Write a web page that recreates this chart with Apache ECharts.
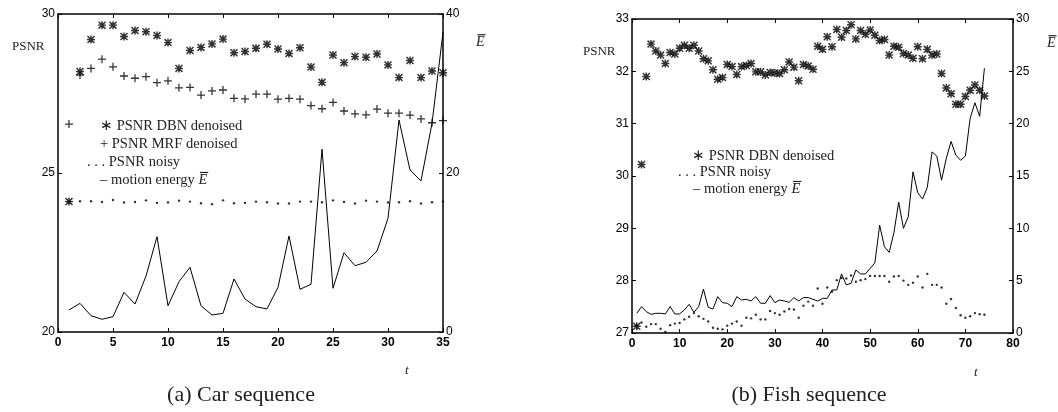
<!DOCTYPE html>
<html>
<head>
<meta charset="utf-8">
<script src="https://cdn.jsdelivr.net/npm/echarts@6/dist/echarts.min.js"></script>
<style>
html,body{margin:0;padding:0;background:#fff;}
#chart{width:1058px;height:412px;}
</style>
</head>
<body>
<div id="chart"></div>
<script>
// (a) Car sequence, t = 1..35
var dbnCar = [24.1, 28.19, 29.2, 29.65, 29.65, 29.29, 29.48, 29.44, 29.32, 29.1, 28.29, 28.85, 28.95, 29.06, 29.21, 28.78, 28.82, 28.92, 29.05, 28.9,
              28.76, 28.94, 28.33, 27.85, 28.71, 28.47, 28.66, 28.64, 28.74, 28.4, 28.0, 28.54, 28.0, 28.21, 28.15];
var mrfCar = [26.54, 28.08, 28.29, 28.58, 28.34, 28.05, 27.98, 28.03, 27.84, 27.9, 27.68, 27.69, 27.45, 27.58, 27.61, 27.35, 27.33, 27.48, 27.48, 27.32,
              27.35, 27.32, 27.12, 27.02, 27.22, 26.95, 26.86, 26.83, 27.01, 26.88, 26.88, 26.82, 26.7, 26.58, 26.65];
var noisyCar = [24.1, 24.11, 24.11, 24.09, 24.15, 24.07, 24.09, 24.14, 24.06, 24.07, 24.13, 24.10, 24.05, 24.02, 24.14, 24.05, 24.06, 24.10, 24.08, 24.04,
                24.04, 24.10, 24.10, 24.08, 24.14, 24.09, 24.04, 24.13, 24.10, 24.07, 24.08, 24.11, 24.04, 24.08, 24.1];
var energyCar = [2.77, 3.6, 2.05, 1.6, 1.93, 4.99, 3.52, 7.04, 11.99, 3.3, 6.33, 8.14, 3.3, 2.14, 2.35, 6.67, 4.15, 3.18, 2.9, 5.62,
                 12.08, 5.37, 6.0, 23.0, 5.5, 9.97, 8.34, 8.77, 10.19, 14.3, 26.67, 20.38, 19.0, 26.25, 37.7];

// (b) Fish sequence, t = 1..74
var dbnFish = [27.13, 30.22, 31.9, 32.52, 32.39, 32.31, 32.15, 32.36, 32.33, 32.44, 32.50, 32.44, 32.50, 32.39, 32.24, 32.20, 32.03, 31.85, 31.88, 32.13,
               32.09, 31.94, 32.09, 32.11, 32.15, 31.99, 31.99, 31.93, 31.98, 31.97, 31.96, 32.03, 32.18, 32.08, 31.82, 32.13, 32.10, 32.04, 32.48, 32.42,
               32.66, 32.47, 32.80, 32.65, 32.78, 32.89, 32.62, 32.78, 32.71, 32.79, 32.69, 32.59, 32.61, 32.31, 32.48, 32.46, 32.34, 32.31, 32.25, 32.47,
               32.24, 32.42, 32.31, 32.33, 31.96, 31.68, 31.57, 31.37, 31.37, 31.52, 31.64, 31.74, 31.64, 31.53];
var noisyFish = [27.14, 27.20, 27.12, 27.17, 27.17, 27.08, 27.02, 27.15, 27.18, 27.19, 27.26, 27.31, 27.38, 27.32, 27.27, 27.22, 27.10, 27.08, 27.07, 27.14,
                 27.18, 27.22, 27.14, 27.29, 27.28, 27.35, 27.26, 27.26, 27.42, 27.38, 27.35, 27.41, 27.46, 27.45, 27.29, 27.52, 27.60, 27.52, 27.85, 27.56,
                 27.87, 27.79, 28.01, 28.05, 28.04, 28.10, 27.98, 28.01, 28.03, 28.09, 28.09, 28.09, 28.09, 27.98, 28.08, 28.09, 28.0, 27.92, 27.96, 28.08,
                 27.87, 28.13, 27.92, 27.92, 27.87, 27.56, 27.65, 27.48, 27.34, 27.29, 27.32, 27.38, 27.36, 27.35];
var energyFish = [1.88, 2.52, 2.04, 1.78, 1.88, 1.88, 1.82, 2.52, 1.82, 1.82, 2.2, 2.74, 1.97, 2.52, 4.2, 2.45, 2.29, 3.47, 2.9, 2.84,
                  2.52, 3.47, 3.15, 3.22, 3.06, 3.47, 2.84, 2.84, 3.57, 2.9, 3.15, 3.06, 2.93, 3.38, 3.06, 3.38, 3.38, 3.22, 3.06, 3.31,
                  3.31, 4.11, 4.11, 5.64, 4.59, 4.75, 6.02, 5.64, 5.64, 6.18, 6.7, 10.3, 8.25, 7.7, 9.6, 12.5, 10.0, 11.1, 15.4, 13.4,
                  12.8, 13.9, 17.3, 16.9, 14.6, 16.7, 18.3, 17.0, 16.5, 16.9, 20.5, 22.0, 20.7, 25.3];

var legendCar = ['\u2217 PSNR DBN denoised', '+ PSNR MRF denoised', '. . . PSNR noisy', '\u2013 motion energy '];
var legendFish = ['\u2217 PSNR DBN denoised', '. . . PSNR noisy', '\u2013 motion energy '];
var captions = ['(a) Car sequence', '(b) Fish sequence'];

function pairs(vals) {
    return vals.map(function (v, i) { return [i + 1, v]; });
}

// asterisk = plus + cross, all subpaths same winding
var STAR = 'path://M4.1,0L5.9,0L5.9,4.1L10,4.1L10,5.9L5.9,5.9L5.9,10L4.1,10L4.1,5.9L0,5.9L0,4.1L4.1,4.1Z' +
           'M1.3,0L10,8.7L8.7,10L0,1.3ZM8.7,0L10,1.3L1.3,10L0,8.7Z';
var PLUS = 'path://M4.2,0L5.8,0L5.8,4.2L10,4.2L10,5.8L5.8,5.8L5.8,10L4.2,10L4.2,5.8L0,5.8L0,4.2L4.2,4.2Z';

var SANS = 'Liberation Sans, Arial, sans-serif';
var SERIF = 'Liberation Serif, Times New Roman, serif';

function xAx(gi, max, step, top) {
    return {
        type: 'value', gridIndex: gi, position: top ? 'top' : 'bottom',
        min: 0, max: max, interval: step,
        axisLine: { show: true, onZero: false, lineStyle: { color: '#000', width: 1.5 } },
        axisTick: { show: true, inside: true, length: 4, lineStyle: { color: '#000', width: 1 } },
        axisLabel: { show: !top, color: '#000', fontFamily: SANS, fontSize: 12, fontWeight: 'bold', margin: 5 },
        splitLine: { show: false }
    };
}
function yAx(gi, min, max, step, right) {
    return {
        type: 'value', gridIndex: gi, position: right ? 'right' : 'left',
        min: min, max: max, interval: step,
        axisLine: { show: true, onZero: false, lineStyle: { color: '#000', width: 1.5 } },
        axisTick: { show: true, inside: true, length: 4, lineStyle: { color: '#000', width: 1 } },
        axisLabel: { color: '#000', fontFamily: SANS, fontSize: 12, margin: 3 },
        splitLine: { show: false }
    };
}

var measure = document.createElement('canvas').getContext('2d');
function textW(str, font) {
    measure.font = font;
    return measure.measureText(str).width;
}
// italic E with a bar over it
function eBar(x, y, size) {
    var w = textW('E', 'italic ' + size + 'px ' + SERIF);
    return [
        { type: 'text', silent: true, style: { text: 'E', x: x, y: y, fontFamily: SERIF, fontSize: size, fontStyle: 'italic', fill: '#222', align: 'left', verticalAlign: 'middle' } },
        { type: 'line', silent: true, shape: { x1: x + 1.5, y1: y - size * 0.52, x2: x + w + 1, y2: y - size * 0.52 }, style: { stroke: '#222', lineWidth: 1.2 } }
    ];
}
function legendBlock(lines, xs, ys, size) {
    var out = [];
    lines.forEach(function (s, i) {
        out.push({ type: 'text', silent: true, style: { text: s, x: xs[i], y: ys[i], fontFamily: SERIF, fontSize: size, fill: '#222', align: 'left', verticalAlign: 'middle' } });
    });
    var last = lines.length - 1;
    var w = textW(lines[last], size + 'px ' + SERIF);
    return out.concat(eBar(xs[last] + w, ys[last], size));
}

var graphics = []
    .concat(legendBlock(legendCar, [100, 100, 87, 100], [126, 144, 162, 180], 14.5))
    .concat(legendBlock(legendFish, [692, 678, 693], [156, 172, 189], 14.5))
    .concat([
        { type: 'text', silent: true, style: { text: 'PSNR', x: 12, y: 47, fontFamily: SERIF, fontSize: 13, fill: '#222', verticalAlign: 'middle' } },
        { type: 'text', silent: true, style: { text: 'PSNR', x: 583, y: 52, fontFamily: SERIF, fontSize: 13, fill: '#222', verticalAlign: 'middle' } },
        { type: 'text', silent: true, style: { text: 't', x: 405, y: 371, fontFamily: SERIF, fontSize: 13, fontStyle: 'italic', fill: '#222', verticalAlign: 'middle' } },
        { type: 'text', silent: true, style: { text: 't', x: 974, y: 373, fontFamily: SERIF, fontSize: 13, fontStyle: 'italic', fill: '#222', verticalAlign: 'middle' } },
        { type: 'text', silent: true, style: { text: captions[0], x: 241, y: 395, fontFamily: SERIF, fontSize: 22, fill: '#222', align: 'center', verticalAlign: 'middle' } },
        { type: 'text', silent: true, style: { text: captions[1], x: 809, y: 395, fontFamily: SERIF, fontSize: 22, fill: '#222', align: 'center', verticalAlign: 'middle' } }
    ])
    .concat(eBar(476, 42, 14))
    .concat(eBar(1047, 43, 14));

var myChart = echarts.init(document.getElementById('chart'), null, { renderer: 'canvas' });
myChart.setOption({
    animation: false,
    backgroundColor: '#fff',
    grid: [
        { left: 58, top: 14, width: 385, height: 318 },
        { left: 632, top: 19, width: 381, height: 314 }
    ],
    xAxis: [xAx(0, 35, 5, false), xAx(0, 35, 5, true), xAx(1, 80, 10, false), xAx(1, 80, 10, true)],
    yAxis: [yAx(0, 20, 30, 5, false), yAx(0, 0, 40, 20, true), yAx(1, 27, 33, 1, false), yAx(1, 0, 30, 5, true)],
    series: [
        { name: 'PSNR noisy', type: 'scatter', xAxisIndex: 0, yAxisIndex: 0, data: pairs(noisyCar), symbol: 'circle', symbolSize: 2.4, itemStyle: { color: '#000' }, silent: true },
        { name: 'motion energy', type: 'line', xAxisIndex: 0, yAxisIndex: 1, data: pairs(energyCar), symbol: 'none', lineStyle: { color: '#000', width: 1 }, silent: true },
        { name: 'PSNR MRF denoised', type: 'scatter', xAxisIndex: 0, yAxisIndex: 0, data: pairs(mrfCar), symbol: PLUS, symbolSize: 8, itemStyle: { color: '#000' }, silent: true },
        { name: 'PSNR DBN denoised', type: 'scatter', xAxisIndex: 0, yAxisIndex: 0, data: pairs(dbnCar), symbol: STAR, symbolSize: 8, itemStyle: { color: '#000' }, silent: true },

        { name: 'PSNR noisy', type: 'scatter', xAxisIndex: 2, yAxisIndex: 2, data: pairs(noisyFish), symbol: 'circle', symbolSize: 2.4, itemStyle: { color: '#000' }, silent: true },
        { name: 'motion energy', type: 'line', xAxisIndex: 2, yAxisIndex: 3, data: pairs(energyFish), symbol: 'none', lineStyle: { color: '#000', width: 1 }, silent: true },
        { name: 'PSNR DBN denoised', type: 'scatter', xAxisIndex: 2, yAxisIndex: 2, data: pairs(dbnFish), symbol: STAR, symbolSize: 8, itemStyle: { color: '#000' }, silent: true }
    ],
    graphic: graphics
});
window.addEventListener('resize', function () {
    myChart.resize();
});
</script>
</body>
</html>
